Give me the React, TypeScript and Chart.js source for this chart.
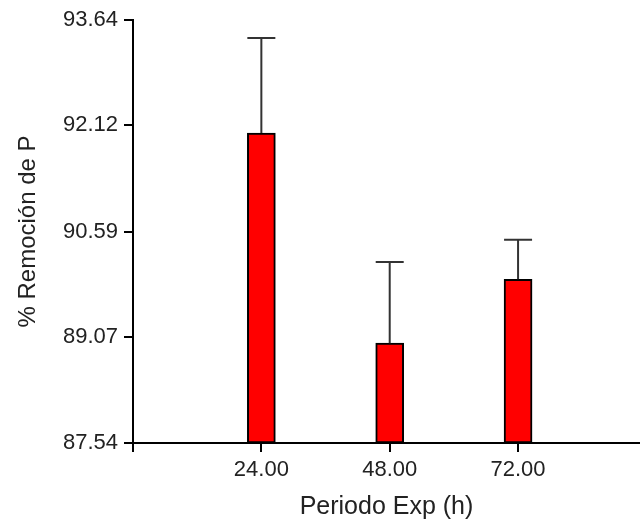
import React, { useEffect, useRef } from "react";
import { Chart, registerables } from "chart.js";

Chart.register(...registerables);

const periods = [24, 48, 72];
const removal = [92.01, 88.98, 89.9];
const errorTop = [93.38, 90.15, 90.47];
const yTicks = [87.54, 89.07, 90.59, 92.12, 93.64];
const xTicks = [0, 24, 48, 72];
const yMin = 87.54;
const yMax = 93.64;

const errorBarPlugin = {
  id: "errorBars",
  afterDatasetsDraw(chart: any) {
    const ctx = chart.ctx;
    const meta = chart.getDatasetMeta(0);
    const yScale = chart.scales.y;
    ctx.save();
    ctx.strokeStyle = "#333333";
    ctx.lineWidth = 2;
    meta.data.forEach((bar: any, i: number) => {
      const x = bar.x;
      const yTop = bar.y;
      const yErr = yScale.getPixelForValue(errorTop[i]);
      const half = bar.width / 2;
      ctx.beginPath();
      ctx.moveTo(x, yTop);
      ctx.lineTo(x, yErr);
      ctx.moveTo(x - half, yErr);
      ctx.lineTo(x + half, yErr);
      ctx.stroke();
    });
    ctx.restore();
  },
};

export default function App() {
  const ref = useRef<HTMLCanvasElement>(null);
  useEffect(() => {
    if (!ref.current) return;
    const chart = new Chart(ref.current, {
      type: "bar",
      data: {
        datasets: [
          {
            data: periods.map((p, i) => ({ x: p, y: [yMin, removal[i]] })) as any,
            backgroundColor: "#ff0000",
            borderColor: "#000000",
            borderWidth: 2,
            borderSkipped: false,
            barThickness: 28,
          },
        ],
      },
      options: {
        animation: false,
        responsive: false,
        maintainAspectRatio: false,
        layout: { padding: { top: 20, right: 0, left: 0, bottom: 0 } },
        plugins: { legend: { display: false }, tooltip: { enabled: false } },
        scales: {
          x: {
            type: "linear",
            offset: false,
            min: 0,
            max: 94.8,
            afterBuildTicks: (s: any) => {
              s.ticks = xTicks.map((v) => ({ value: v }));
            },
            afterFit: (s: any) => {
              s.height = 80;
            },
            ticks: {
              callback: (v: any) => (v === 0 ? "" : Number(v).toFixed(2)),
              font: { family: "'Liberation Sans', Arial, sans-serif", size: 22 },
              color: "#222222",
              padding: 5,
              maxRotation: 0,
              autoSkip: false,
            },
            grid: {
              display: true,
              offset: false,
              drawOnChartArea: false,
              drawTicks: true,
              tickLength: 9,
              color: "#000000",
              lineWidth: 2,
            },
            border: { display: true, color: "#000000", width: 2 },
            title: {
              display: true,
              text: "Periodo Exp (h)",
              font: { family: "'Liberation Sans', Arial, sans-serif", size: 25 },
              color: "#222222",
              padding: { top: 0, bottom: 1 },
            },
          },
          y: {
            type: "linear",
            min: yMin,
            max: yMax,
            afterBuildTicks: (s: any) => {
              s.ticks = yTicks.map((v) => ({ value: v }));
            },
            afterFit: (s: any) => {
              s.width = 133;
            },
            ticks: {
              callback: (v: any) => Number(v).toFixed(2),
              font: { family: "'Liberation Sans', Arial, sans-serif", size: 22 },
              color: "#222222",
              padding: 6,
            },
            grid: {
              display: true,
              drawOnChartArea: false,
              drawTicks: true,
              tickLength: 9,
              color: "#000000",
              lineWidth: 2,
            },
            border: { display: true, color: "#000000", width: 2 },
            title: {
              display: true,
              text: "% Remoción de P",
              font: { family: "'Liberation Sans', Arial, sans-serif", size: 24 },
              color: "#222222",
              padding: { top: 14, bottom: 0 },
            },
          },
        },
      },
      plugins: [errorBarPlugin],
    });
    return () => chart.destroy();
  }, []);
  return (
    <div style={{ position: "absolute", left: 0, top: 0, width: 640, height: 523, background: "#fff" }}>
      <canvas ref={ref} width={640} height={523} />
    </div>
  );
}
